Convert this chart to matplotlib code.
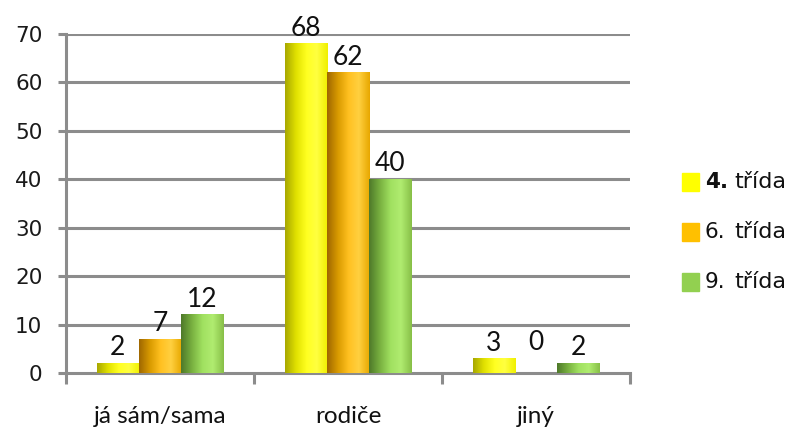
import numpy as np
import matplotlib.pyplot as plt
from matplotlib.colors import LinearSegmentedColormap
from matplotlib.patches import Rectangle

categories = ["já sám/sama", "rodiče", "jiný"]
series = ["4. třída", "6. třída", "9. třída"]
values_4 = [2, 68, 3]
values_6 = [7, 62, 0]
values_9 = [12, 40, 2]
yticks = [0, 10, 20, 30, 40, 50, 60, 70]

# flat legend colour, then dark edge / highlight / rim shades for the cylinder look
palette = {
    "4. třída": ("#ffff00", ["#a8a800", "#e0e000", "#ffff20", "#ffff40", "#f0f000"]),
    "6. třída": ("#ffc000", ["#a06800", "#d89a00", "#ffc020", "#ffd040", "#e8a800"]),
    "9. třída": ("#92d050", ["#4f7a2a", "#78b040", "#a0e060", "#b0ec70", "#88c048"]),
}

W, H, DPI = 792, 429, 100
fig = plt.figure(figsize=(W / DPI, H / DPI), dpi=DPI)
ax = fig.add_axes([66 / W, 1 - 373 / H, (630 - 66) / W, (373 - 34) / H])

x = np.arange(len(categories))
width = 0.225
offsets = [-width, 0.0, width]
grid_c = "#8c8c8c"

for yv in yticks[1:]:
    ax.axhline(yv, color=grid_c, lw=2.2, zorder=1)

grad = np.linspace(0, 1, 64).reshape(1, -1)
for name, vals, off in zip(series, [values_4, values_6, values_9], offsets):
    flat, shades = palette[name]
    cmap = LinearSegmentedColormap.from_list(name, shades)
    for xi, v in zip(x, vals):
        x0 = xi + off - width / 2
        if v > 0:
            ax.imshow(grad, cmap=cmap, aspect="auto", extent=(x0, x0 + width, 0, v),
                      zorder=3, interpolation="bilinear")
        # empty bars get their label lifted a little more
        ax.text(xi + off, v + 0.6 if v > 0 else 3.8, f"{v}", ha="center", va="bottom",
                fontsize=19, family="Lato", color="#111111", zorder=4)

ax.set_xlim(-0.5, len(categories) - 0.5)
ax.set_ylim(0, 70)
ax.set_yticks(yticks)
ax.set_yticklabels([str(t) for t in yticks], fontsize=15.5, color="#1a1a1a")
ax.set_xticks(x)
ax.set_xticklabels(categories, fontsize=17.5, family="Lato", color="#111111")
ax.set_xticks(np.arange(-0.5, len(categories)), minor=True)
ax.tick_params(axis="x", which="major", length=0, pad=24)
ax.tick_params(axis="x", which="minor", length=8, width=2.2, color=grid_c, direction="out")
ax.tick_params(axis="y", length=6, width=2.2, color=grid_c, direction="out", pad=11)

for s in ("top", "right"):
    ax.spines[s].set_visible(False)
for s in ("left", "bottom"):
    ax.spines[s].set_color(grid_c)
    ax.spines[s].set_linewidth(2.2)

# legend drawn by hand so the number can be bold
for i, name in enumerate(series):
    cy = 182 + i * 50
    fig.patches.append(Rectangle((682 / W, 1 - (cy + 9) / H), 17 / W, 18 / H,
                                 transform=fig.transFigure, color=palette[name][0]))
    num, word = name.split(" ", 1)
    fig.text(705 / W, 1 - cy / H, num, fontsize=15.5, va="center",
             fontweight="bold" if i == 0 else "normal", color="#111111")
    fig.text(734 / W, 1 - cy / H, word, fontsize=16, va="center", color="#111111")

fig.savefig("out.png", dpi=DPI)
